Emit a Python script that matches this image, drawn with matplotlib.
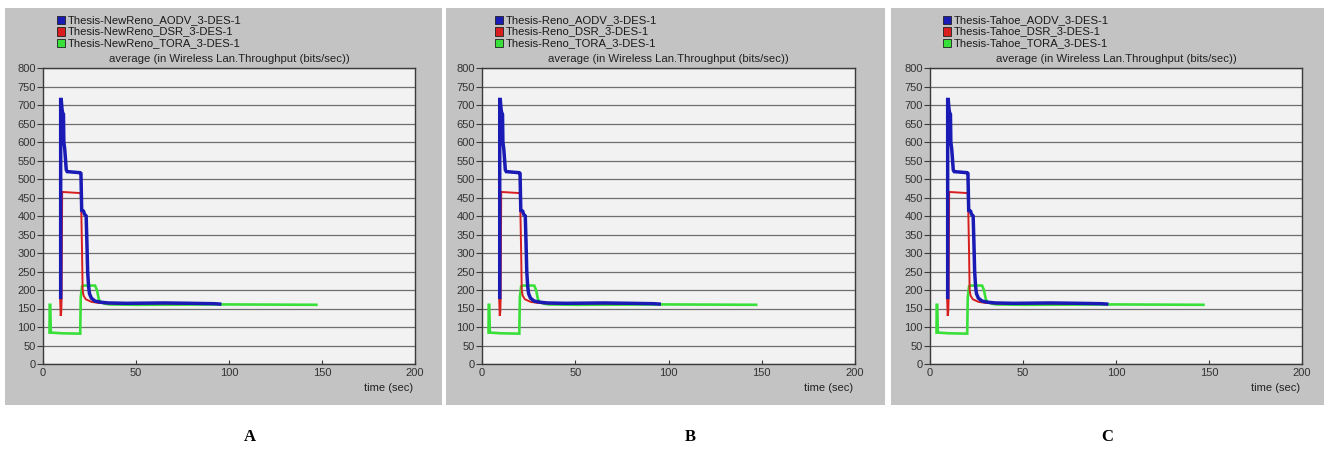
import numpy as np
import matplotlib
matplotlib.use("Agg")
import matplotlib.pyplot as plt
from matplotlib.patches import Rectangle

W, H = 1330, 449

# --- data (time in sec, throughput in bits/sec) ---
aodv_t = [9.5, 9.5, 9.8, 10.2, 10.5, 11.0, 11.2, 11.7, 12.5, 13.0, 20.0, 20.4, 20.8,
          21.8, 22.3, 23.2, 23.6, 24.0, 24.5, 25.0, 26.0, 28.0, 31.0, 35.0, 45.0,
          65.0, 80.0, 92.0, 95.0]
aodv_v = [180, 715, 715, 690, 680, 675, 600, 580, 525, 520, 517, 515, 415,
          413, 405, 400, 330, 250, 210, 190, 178, 170, 167, 165, 164,
          165, 164, 163, 162]

dsr_t = [9.2, 9.5, 9.8, 10.0, 10.3, 20.0, 20.3, 20.6, 21.0, 21.3, 21.8, 23.0,
         26.0, 30.0, 40.0, 60.0, 80.0, 92.0]
dsr_v = [180, 130, 140, 175, 465, 462, 460, 410, 300, 200, 185, 175,
         168, 165, 163, 164, 163, 162]

tora_t = [3.5, 3.6, 3.9, 4.2, 10.0, 20.0, 20.3, 21.0, 21.5, 28.0, 29.0, 30.0,
          31.0, 33.0, 36.0, 50.0, 100.0, 147.0]
tora_v = [85, 160, 160, 85, 83, 82, 180, 210, 212, 212, 200, 175,
          168, 163, 161, 160, 161, 160]

variants = ["NewReno", "Reno", "Tahoe"]
panel_labels = ["A", "B", "C"]
protocols = ["AODV", "DSR", "TORA"]
y_ticks = list(range(0, 801, 50))
x_ticks = [0, 50, 100, 150, 200]

colors = {"AODV": "#1a1ab4", "DSR": "#d81e1e", "TORA": "#3ae03a"}
widths = {"AODV": 2.5, "DSR": 1.4, "TORA": 1.9}
series = {"AODV": (aodv_t, aodv_v), "DSR": (dsr_t, dsr_v), "TORA": (tora_t, tora_v)}

# pixel boxes: gray frame (x0, x1), plot area (x0, x1), legend x
frames = [(5, 442), (446, 885), (891, 1324)]
plots = [(43, 415), (482, 855), (930, 1302)]
leg_x = [57, 495, 943]
label_x = [250, 690, 1107]
frame_y = (8, 405)
plot_y = (68, 364)

fig = plt.figure(figsize=(W / 100, H / 100), dpi=100)
fig.patch.set_facecolor("white")

def fx(x):
    return x / W

def fy(y):
    return 1 - y / H

font = ["Liberation Sans", "DejaVu Sans"]

for i, variant in enumerate(variants):
    fx0, fx1 = frames[i]
    fig.patches.append(Rectangle((fx(fx0), fy(frame_y[1])), fx(fx1 - fx0), (frame_y[1] - frame_y[0]) / H,
                                 transform=fig.transFigure, facecolor="#c3c3c3",
                                 edgecolor="none", zorder=-5))

    px0, px1 = plots[i]
    ax = fig.add_axes([fx(px0), fy(plot_y[1]), fx(px1 - px0), (plot_y[1] - plot_y[0]) / H])
    ax.set_zorder(1)
    ax.set_facecolor("#f2f2f2")
    for name in ["TORA", "DSR", "AODV"]:
        t, v = series[name]
        ax.plot(t, v, color=colors[name], lw=widths[name], solid_joinstyle="miter")
    ax.set_xlim(0, 200)
    ax.set_ylim(0, 800)
    ax.set_yticks(y_ticks)
    ax.set_xticks(x_ticks)
    ax.yaxis.grid(True, color="#6e6e6e", lw=0.9)
    ax.set_axisbelow(True)
    for s in ax.spines.values():
        s.set_color("#3a3a3a")
        s.set_linewidth(1.0)
    ax.tick_params(axis="y", direction="out", length=4, width=0.8, colors="#3a3a3a",
                   labelsize=8, pad=1, labelcolor="#333333")
    ax.tick_params(axis="x", direction="in", length=3, width=0.8, colors="#3a3a3a",
                   labelsize=8, pad=3, labelcolor="#333333")
    for lab in ax.get_xticklabels() + ax.get_yticklabels():
        lab.set_family(font)

    ax.text(0.5, 1.012, "average (in Wireless Lan.Throughput (bits/sec))", transform=ax.transAxes,
            ha="center", va="bottom", fontsize=8.2, family=font, color="#222222")
    fig.text(fx(px1 - 2), fy(388), "time (sec)", ha="right", va="center", fontsize=8,
             family=font, color="#222222")

    # legend drawn like the OPNET header
    for j, proto in enumerate(protocols):
        yc = 20 + j * 11.5
        fig.patches.append(Rectangle((fx(leg_x[i]), fy(yc + 4)), fx(8), 8 / H,
                                     transform=fig.transFigure, facecolor=colors[proto],
                                     edgecolor="#202020", lw=0.6, zorder=2))
        fig.text(fx(leg_x[i] + 11), fy(yc), f"Thesis-{variant}_{proto}_3-DES-1",
                 ha="left", va="center", fontsize=8.1, family=font, color="#1a1a1a")

    fig.text(fx(label_x[i]), fy(437), panel_labels[i], ha="center", va="center",
             fontsize=12, fontweight="bold", family=["Liberation Serif", "DejaVu Serif"])

fig.savefig("out.png", dpi=100, facecolor="white")
